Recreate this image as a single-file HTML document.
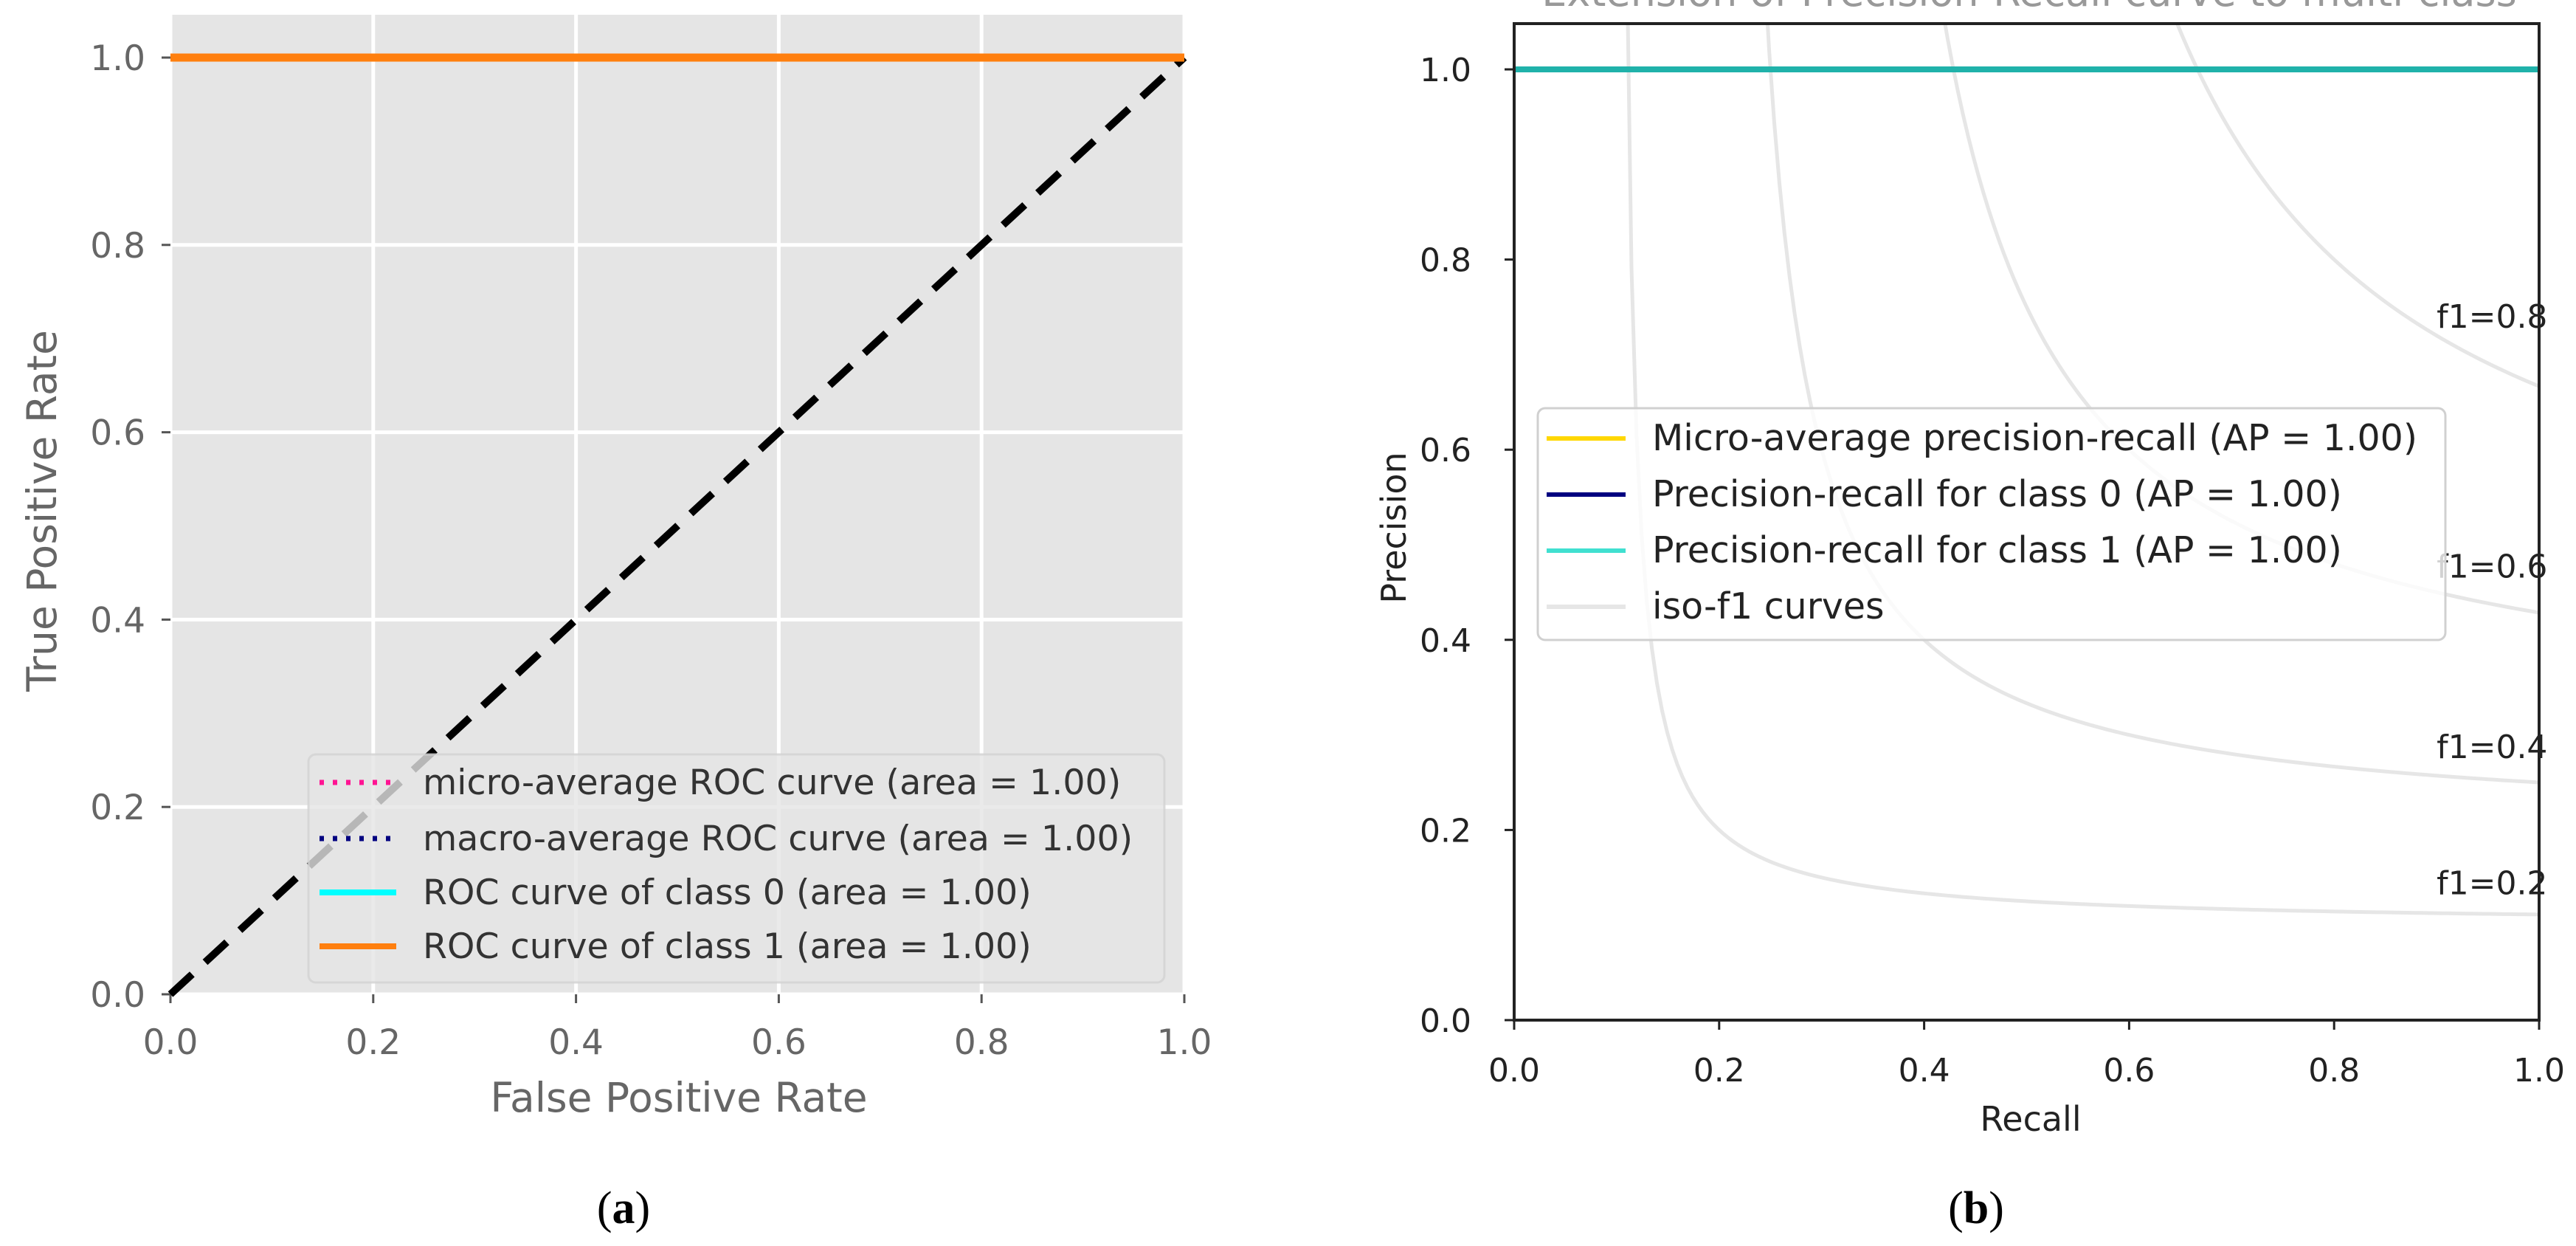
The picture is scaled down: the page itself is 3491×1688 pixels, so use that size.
<!DOCTYPE html>
<html><head><meta charset="utf-8"><style>
html,body{margin:0;padding:0;background:#fff;}
svg{display:block;font-family:"DejaVu Sans","Liberation Sans",sans-serif;}
</style></head><body>
<svg id="fig" width="3491" height="1688" viewBox="0 0 3491 1688" xmlns="http://www.w3.org/2000/svg"></svg>
<script>
// ---- data ----
const rocTicks = [0, 0.2, 0.4, 0.6, 0.8, 1.0];
const rocTickLabels = ["0.0","0.2","0.4","0.6","0.8","1.0"];
const rocClass1X = [0, 1];
const rocClass1Y = [1, 1];
const chanceX = [0, 1];
const chanceY = [0, 1];
const rocLegend = ["micro-average ROC curve (area = 1.00)","macro-average ROC curve (area = 1.00)","ROC curve of class 0 (area = 1.00)","ROC curve of class 1 (area = 1.00)"];
const prTicks = [0, 0.2, 0.4, 0.6, 0.8, 1.0];
const prTickLabels = ["0.0","0.2","0.4","0.6","0.8","1.0"];
const prClass1X = [0, 1];
const prClass1Y = [1, 1];
const f1Scores = [0.2, 0.4, 0.6, 0.8];
const prLegend = ["Micro-average precision-recall (AP = 1.00)","Precision-recall for class 0 (AP = 1.00)","Precision-recall for class 1 (AP = 1.00)","iso-f1 curves"];

const NS = "http://www.w3.org/2000/svg";
const svg = document.getElementById('fig');
function mk(tag, attrs, parent, text){
  const e = document.createElementNS(NS, tag);
  for (const k in attrs) e.setAttribute(k, attrs[k]);
  if (text !== undefined) e.textContent = text;
  (parent || svg).appendChild(e);
  return e;
}

// ---- left ROC ----
const L = {x0:231, x1:1605, yb:1347, y1:78};
const lx = v => L.x0 + v*(L.x1-L.x0);
const ly = v => L.yb - v*(L.yb-L.y1);
const lg = mk('g', {});


let bg = mk('rect', {x:L.x0, y:20, width:L.x1-L.x0, height:L.yb-20, fill:'#e5e5e5'}, lg);


rocTicks.forEach((t,i)=>{
  let g1 = mk('line', {x1:lx(t), x2:lx(t), y1:20, y2:L.yb, stroke:'#fff', 'stroke-width':5}, lg);
  
  
  let g2 = mk('line', {x1:L.x0, x2:L.x1, y1:ly(t), y2:ly(t), stroke:'#fff', 'stroke-width':5}, lg);
  
  
  mk('line', {x1:lx(t), x2:lx(t), y1:L.yb, y2:L.yb+12, stroke:'#555', 'stroke-width':3}, lg);
  mk('line', {x1:L.x0-12, x2:L.x0, y1:ly(t), y2:ly(t), stroke:'#555', 'stroke-width':3}, lg);
  let xt = mk('text', {x:lx(t), y:1428, 'font-size':47, fill:'#666', 'text-anchor':'middle'}, lg, rocTickLabels[i]);
  
  
  let yt = mk('text', {x:L.x0-34, y:ly(t)+17, 'font-size':47, fill:'#666', 'text-anchor':'end'}, lg, rocTickLabels[i]);
  
  
});
let chance = mk('polyline', {points:chanceX.map((v,i)=>lx(v)+','+ly(chanceY[i])).join(' '), fill:'none', stroke:'#000', 'stroke-width':10, 'stroke-dasharray':'40,24'}, lg);


let c1 = mk('polyline', {points:rocClass1X.map((v,i)=>lx(v)+','+ly(rocClass1Y[i])).join(' '), fill:'none', stroke:'#ff7f0e', 'stroke-width':11}, lg);


let leg = mk('g', {}, lg);


mk('rect', {x:418, y:1022, width:1160, height:309, rx:10, fill:'rgba(229,229,229,0.8)', stroke:'rgba(210,210,210,0.8)', 'stroke-width':3}, leg);
const rocStyles = [
  {c:'deeppink', d:'6,12', w:7},
  {c:'navy', d:'6,12', w:7},
  {c:'aqua', d:'', w:8},
  {c:'#ff7f0e', d:'', w:8}];
const rocRowY = [1060,1136,1209,1282];
rocLegend.forEach((s,i)=>{
  const st = rocStyles[i];
  mk('line', {x1:433, x2:537, y1:rocRowY[i], y2:rocRowY[i], stroke:st.c, 'stroke-width':st.w, 'stroke-dasharray':st.d}, leg);
  let t = mk('text', {x:573, y:rocRowY[i]+16, 'font-size':47.5, fill:'#333'}, leg, s);
  
  
});
let xl = mk('text', {x:920, y:1506, 'font-size':55, fill:'#666', 'text-anchor':'middle'}, lg, 'False Positive Rate');


let yl = mk('text', {x:0, y:0, 'font-size':55, fill:'#666', 'text-anchor':'middle', transform:'translate(76,692) rotate(-90)'}, lg, 'True Positive Rate');


let ca = mk('text', {x:845, y:1657, 'font-size':62, fill:'#000', 'text-anchor':'middle', 'font-family':'Liberation Serif, serif'}, svg);


mk('tspan', {}, ca, '(');
mk('tspan', {'font-weight':'bold'}, ca, 'a');
mk('tspan', {}, ca, ')');

// ---- right PR ----
const R = {x0:2052, x1:3441, yb:1382, y1:94, top:32};
const rx = v => R.x0 + v*(R.x1-R.x0);
const ry = v => R.yb - v*(R.yb-R.y1);
const rg = mk('g', {});


let ttl = mk('text', {x:2750, y:8, 'font-size':54, fill:'#999', 'text-anchor':'middle'}, rg, 'Extension of Precision-Recall curve to multi-class');


const clip = mk('clipPath', {id:'prclip'}, rg);
mk('rect', {x:R.x0, y:R.top, width:R.x1-R.x0, height:R.yb-R.top}, clip);
f1Scores.forEach(f=>{
  const pts = [];
  for (let i=0;i<200;i++){
    const x = 0.01 + i*0.99/199;
    const y = f*x/(2*x-f);
    if (y>=0) pts.push(rx(x)+','+ry(Math.min(y,1.2)));
  }
  let c = mk('polyline', {points:pts.join(' '), fill:'none', stroke:'rgba(128,128,128,0.2)', 'stroke-width':5, 'clip-path':'url(#prclip)'}, rg);
  
  
  const x45 = 0.01 + 45*0.99/49;
  const yl2 = f*x45/(2*x45-f) + 0.02;
  let t = mk('text', {x:rx(0.9), y:ry(yl2), 'font-size':44, fill:'#222'}, rg, 'f1=' + f.toFixed(1));
  
  
});
let pc = mk('polyline', {points:prClass1X.map((v,i)=>rx(v)+','+ry(prClass1Y[i])).join(' '), fill:'none', stroke:'#20b2aa', 'stroke-width':8}, rg);


let fr = mk('rect', {x:R.x0, y:R.top, width:R.x1-R.x0, height:R.yb-R.top, fill:'none', stroke:'#222', 'stroke-width':4}, rg);


prTicks.forEach((t,i)=>{
  mk('line', {x1:rx(t), x2:rx(t), y1:R.yb, y2:R.yb+13, stroke:'#222', 'stroke-width':3}, rg);
  mk('line', {x1:R.x0-13, x2:R.x0, y1:ry(t), y2:ry(t), stroke:'#222', 'stroke-width':3}, rg);
  let xt = mk('text', {x:rx(t), y:1465, 'font-size':44, fill:'#222', 'text-anchor':'middle'}, rg, prTickLabels[i]);
  
  
  let yt = mk('text', {x:R.x0-58, y:ry(t)+16, 'font-size':44, fill:'#222', 'text-anchor':'end'}, rg, prTickLabels[i]);
  
  
});
let pleg = mk('g', {}, rg);


mk('rect', {x:2084, y:553, width:1230, height:314, rx:10, fill:'rgba(255,255,255,0.8)', stroke:'#d0d0d0', 'stroke-width':3}, pleg);
const prColors = ['gold','navy','turquoise','rgba(128,128,128,0.2)'];
const prRowY = [594,670,746,822];
prLegend.forEach((s,i)=>{
  mk('line', {x1:2096, x2:2203, y1:prRowY[i], y2:prRowY[i], stroke:prColors[i], 'stroke-width':6}, pleg);
  let t = mk('text', {x:2239, y:prRowY[i]+16, 'font-size':49, fill:'#222'}, pleg, s);
  
  
});
let pxl = mk('text', {x:2752, y:1532, 'font-size':46, fill:'#222', 'text-anchor':'middle'}, rg, 'Recall');


let pyl = mk('text', {x:0, y:0, 'font-size':46, fill:'#222', 'text-anchor':'middle', transform:'translate(1905,715) rotate(-90)'}, rg, 'Precision');


let cb = mk('text', {x:2678, y:1657, 'font-size':62, fill:'#000', 'text-anchor':'middle', 'font-family':'Liberation Serif, serif'}, svg);


mk('tspan', {}, cb, '(');
mk('tspan', {'font-weight':'bold'}, cb, 'b');
mk('tspan', {}, cb, ')');
</script>
</body></html>
